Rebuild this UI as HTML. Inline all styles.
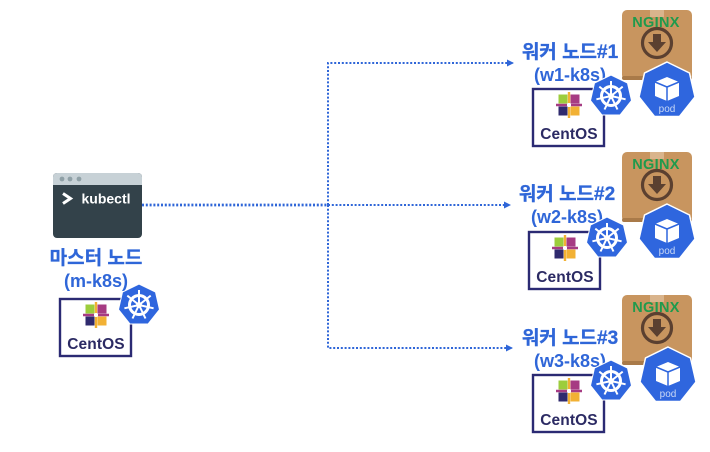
<!DOCTYPE html>
<html><head><meta charset="utf-8"><style>
html,body{margin:0;padding:0;background:#fff;width:710px;height:452px;overflow:hidden}
svg{display:block}
.l{font-family:"Liberation Sans","Noto Sans CJK KR",sans-serif;font-weight:700;font-size:19px;fill:#2f66d8;stroke:#2f66d8;stroke-width:.3px;text-anchor:middle}
.m{font-family:"Liberation Sans","Noto Sans CJK KR",sans-serif;font-weight:700;font-size:18px;fill:#2f66d8;text-anchor:middle}
.c{font-family:"Liberation Sans",sans-serif;font-weight:700;font-size:15.500px;fill:#2b2a63;text-anchor:middle;letter-spacing:.1px}
.n{font-family:"Liberation Sans",sans-serif;font-weight:700;font-size:14.500px;fill:#1f9a4d;text-anchor:middle;letter-spacing:.3px}
.p{font-family:"Liberation Sans",sans-serif;font-size:10px;fill:#c9d8f5;text-anchor:middle}
.k{font-family:"Liberation Sans",sans-serif;font-weight:700;font-size:14px;fill:#fff}
.b{filter:blur(.35px)}
</style></head><body>
<svg width="710" height="452" viewBox="0 0 710 452" xmlns="http://www.w3.org/2000/svg">
<defs>
<g id="cent">
<rect x="1" y="1" width="71" height="57" fill="#fff" stroke="#2b2a73" stroke-width="2.400"/>
<g transform="translate(37,17)">
<rect x="-10.500" y="-10.500" width="9" height="9" fill="#9ccd3c"/>
<rect x="1.500" y="-10.500" width="9" height="9" fill="#a63b83"/>
<rect x="1.500" y="1.500" width="9" height="9" fill="#f2b134"/>
<rect x="-10.500" y="1.500" width="9" height="9" fill="#2f2a6e"/>
<path d="M-1.200-13H1.200V-2H-1.200ZM-1.200 2H1.200V13H-1.200Z" fill="#f2b134"/>
<path d="M-13-1.200H-2V1.200H-13ZM2-1.200H13V1.200H2Z" fill="#a63b83"/>
</g>
</g>
<g id="wheel">
<polygon points="0,-21 16.500,-13 20.500,4.500 9,19 -9,19 -20.500,4.500 -16.500,-13" fill="#2f66de" stroke="#fff" stroke-width="1"/>
<circle r="9.500" fill="none" stroke="#fff" stroke-width="3"/>
<circle r="3" fill="#fff"/>
<path d="M0 0L0-15M0 0L11.700-9.400M0 0L14.600 3.300M0 0L6.500 13.500M0 0L-6.500 13.500M0 0L-14.600 3.300M0 0L-11.700-9.400" stroke="#fff" stroke-width="2"/>
</g>
<g id="box">
<rect x="0" y="0" width="70" height="70" rx="5" fill="#c8955f"/>
<rect x="28" y="0" width="14" height="7" fill="#d9b48c"/>
<rect x="0" y="66" width="70" height="4" rx="2" fill="#a97a49"/>
<circle cx="35" cy="33" r="14.500" fill="none" stroke="#5b4030" stroke-width="3.200"/>
<path d="M31 24H39V32H44L35 42 26 32H31Z" fill="#5b4030"/>
</g>
<g id="pod">
<polygon points="0,-29 22.500,-18 28,6 12.500,25.500 -12.500,25.500 -28,6 -22.500,-18" fill="#2f66de" stroke="#fff" stroke-width="1.500"/>
<path d="M0-14L12-9V5L0 10-12 5V-9Z" fill="#fff"/>
<path d="M-12-9L0-4 12-9M0-4V10" fill="none" stroke="#2f66de" stroke-width="1.500"/>
</g>
<marker id="a" markerWidth="8" markerHeight="8" refX="6" refY="3.500" orient="auto" markerUnits="userSpaceOnUse"><path d="M0 0L7 3.500 0 7Z" fill="#2f66d8"/></marker>
</defs>

<g fill="none" stroke="#2f66d8" stroke-width="2" stroke-dasharray="2 1.800">
<path d="M142 205H328" stroke-width="2.800"/>
<path d="M328 205H510" marker-end="url(#a)"/>
<path d="M328 205V63H513" marker-end="url(#a)"/>
<path d="M328 205V348H512" marker-end="url(#a)"/>
</g>

<g class="b">
<!-- kubectl -->
<rect x="53" y="173" width="89" height="65" rx="4" fill="#33424a"/>
<path d="M53 185V177a4 4 0 0 1 4-4H138a4 4 0 0 1 4 4V185Z" fill="#c7d1d6"/>
<circle cx="62" cy="179" r="2.400" fill="#8fa0a6"/><circle cx="70" cy="179" r="2.400" fill="#8fa0a6"/><circle cx="79" cy="179" r="2.400" fill="#8fa0a6"/>
<path d="M63 193.500L70.500 198.500 63 203.500" fill="none" stroke="#fff" stroke-width="3"/>
<text class="k" x="81.500" y="203.500">kubectl</text>

<!-- master -->
<text class="l" x="96" y="264">마스터 노드</text>
<text class="m" x="96" y="287">(m-k8s)</text>
<use href="#cent" x="59" y="298"/>
<text class="c" x="96" y="349">CentOS</text>
<use href="#wheel" x="139" y="305"/>

<!-- worker 1 -->
<use href="#box" x="622" y="10"/>
<text class="n" x="656" y="27">NGINX</text>
<use href="#pod" x="667" y="91"/>
<text class="p" x="667" y="112">pod</text>
<text class="l" x="570" y="58">워커 노드#1</text>
<text class="m" x="570" y="81">(w1-k8s)</text>
<use href="#cent" x="532" y="88"/>
<text class="c" x="569" y="139">CentOS</text>
<use href="#wheel" x="611" y="96"/>

<!-- worker 2 -->
<use href="#box" x="622" y="152"/>
<text class="n" x="656" y="169">NGINX</text>
<use href="#pod" x="667" y="233"/>
<text class="p" x="667" y="254">pod</text>
<text class="l" x="567" y="200">워커 노드#2</text>
<text class="m" x="567" y="223">(w2-k8s)</text>
<use href="#cent" x="528" y="231"/>
<text class="c" x="565" y="282">CentOS</text>
<use href="#wheel" x="607" y="238"/>

<!-- worker 3 -->
<use href="#box" x="622" y="295"/>
<text class="n" x="656" y="312">NGINX</text>
<use href="#pod" x="668" y="376"/>
<text class="p" x="668" y="397">pod</text>
<text class="l" x="570" y="344">워커 노드#3</text>
<text class="m" x="570" y="367">(w3-k8s)</text>
<use href="#cent" x="532" y="374"/>
<text class="c" x="569" y="425">CentOS</text>
<use href="#wheel" x="611" y="381"/>
</g>
</svg>
</body></html>
